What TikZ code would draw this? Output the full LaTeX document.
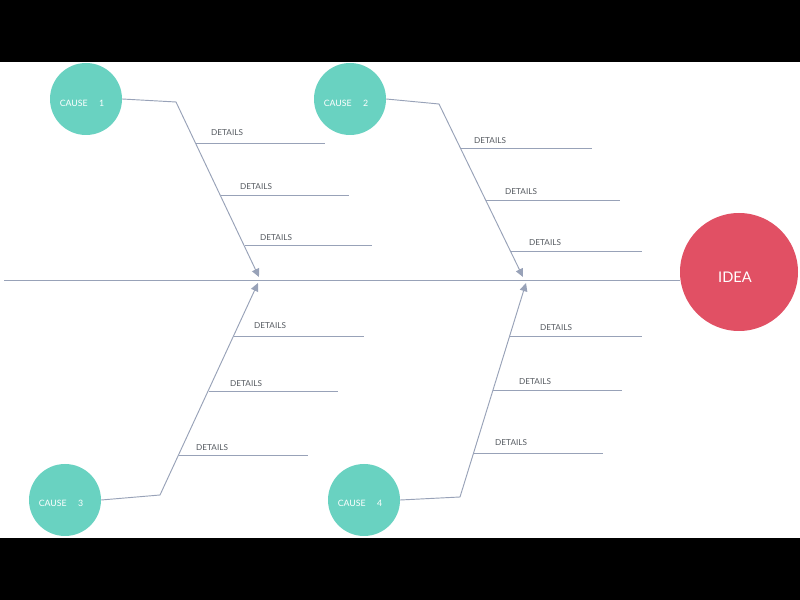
\documentclass[tikz,border=0pt]{standalone}
\usepackage{fontspec}
\setmainfont{Lato}
\usetikzlibrary{arrows.meta}
\definecolor{teal}{HTML}{69D2C1}
\definecolor{idea}{HTML}{E15064}
\definecolor{bone}{HTML}{98A2B8}
\definecolor{txt}{HTML}{555A60}
\tikzset{
  cause/.style={circle, fill=teal, minimum size={72*0.03cm}, inner sep=0pt},
  ctext/.style={text=white, font=\fontsize{7.5}{8}\selectfont, inner sep=0pt},
  ideac/.style={circle, fill=idea, minimum size={118*0.03cm}, inner sep=0pt},
  itext/.style={text=white, font=\fontsize{12.5}{14}\selectfont, inner sep=0pt},
  boneline/.style={draw=bone, line width=0.8pt},
  arrowbone/.style={boneline, -{Triangle[length=7pt,width=6.5pt]}},
  detail/.style={draw=bone, line width=0.8pt},
  dlabel/.style={text=txt, font=\fontsize{7}{8}\selectfont, inner sep=0pt, anchor=south west}
}
\begin{document}
\begin{tikzpicture}[x=0.03cm, y=-0.03cm]
\fill[black] (0,0) rectangle (800,600);
\fill[white] (0,62) rectangle (800,538);
\useasboundingbox (0,0) rectangle (800,600);

% spine
\node[ideac] (idea) at (739,272) {};
\node[itext] (ideat) at (735,277) {IDEA};
\coordinate (spl) at (4,280);
\draw[boneline] (spl) -- (spl -| idea.west);

% causes
\node[cause] (c1) at (86,99) {};
\node[cause] (c2) at (350,99) {};
\node[cause] (c3) at (65,500) {};
\node[cause] (c4) at (364,500) {};
\node[ctext] (c1t) at (82,103) {CAUSE\hspace{1.3em}1};
\node[ctext] (c2t) at (346,103) {CAUSE\hspace{1.3em}2};
\node[ctext] (c3t) at (61,503) {CAUSE\hspace{1.3em}3};
\node[ctext] (c4t) at (360,503) {CAUSE\hspace{1.3em}4};

% bend points and tips
\coordinate (b1) at (176,102);
\coordinate (t1) at (259,277);
\coordinate (b2) at (439,104);
\coordinate (t2) at (523,277);
\coordinate (b3) at (160,495);
\coordinate (t3) at (258,283);
\coordinate (b4) at (460,497);
\coordinate (t4) at (526,283);

\draw[arrowbone] (c1.east) -- (b1) -- (t1);
\draw[arrowbone] (c2.east) -- (b2) -- (t2);
\draw[arrowbone] (c3.east) -- (b3) -- (t3);
\draw[arrowbone] (c4.east) -- (b4) -- (t4);

% details bone 1
\coordinate (d11) at (195.7,143); \coordinate (e11) at (325,143);
\coordinate (d12) at (220.6,195); \coordinate (e12) at (349,195);
\coordinate (d13) at (244.6,245); \coordinate (e13) at (372,245);
% bone 2
\coordinate (d21) at (460,148); \coordinate (e21) at (592,148);
\coordinate (d22) at (485.7,200); \coordinate (e22) at (620,200);
\coordinate (d23) at (510,251); \coordinate (e23) at (642,251);
% bone 3
\coordinate (d31) at (234,336); \coordinate (e31) at (364,336);
\coordinate (d32) at (208.6,391); \coordinate (e32) at (338,391);
\coordinate (d33) at (178.7,455); \coordinate (e33) at (308,455);
% bone 4
\coordinate (d41) at (509.6,336); \coordinate (e41) at (642,336);
\coordinate (d42) at (493,390); \coordinate (e42) at (622,390);
\coordinate (d43) at (473.6,453); \coordinate (e43) at (603,453);

\foreach \a/\b in {d11/e11,d12/e12,d13/e13,d21/e21,d22/e22,d23/e23,d31/e31,d32/e32,d33/e33,d41/e41,d42/e42,d43/e43}
  \draw[detail] (\a) -- (\b);

\node[dlabel] (l11) at (211,136) {DETAILS};
\node[dlabel] (l12) at (240,190) {DETAILS};
\node[dlabel] (l13) at (260,241) {DETAILS};
\node[dlabel] (l21) at (474,144) {DETAILS};
\node[dlabel] (l22) at (505,195) {DETAILS};
\node[dlabel] (l23) at (529,246) {DETAILS};
\node[dlabel] (l31) at (254,329) {DETAILS};
\node[dlabel] (l32) at (230,387) {DETAILS};
\node[dlabel] (l33) at (196,451) {DETAILS};
\node[dlabel] (l41) at (540,331) {DETAILS};
\node[dlabel] (l42) at (519,385) {DETAILS};
\node[dlabel] (l43) at (495,446) {DETAILS};
\end{tikzpicture}
\end{document}
